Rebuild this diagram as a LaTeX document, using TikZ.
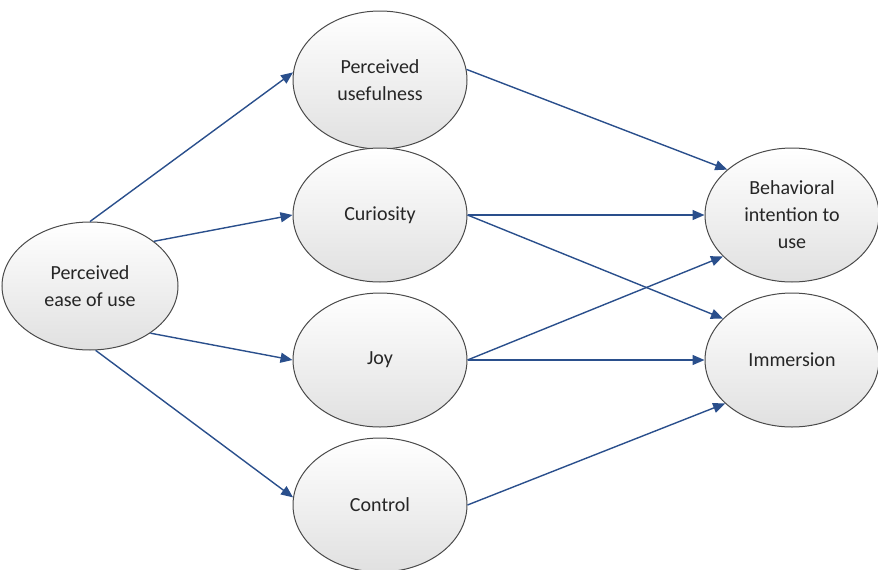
\documentclass[tikz,border=0pt]{standalone}
\usepackage{fontspec}
\setmainfont{Carlito}
\usetikzlibrary{shapes.geometric,arrows.meta}
\definecolor{arrowblue}{HTML}{2A4F8C}
\definecolor{edgegray}{HTML}{4A4A4A}
\tikzset{
  var/.style={ellipse, draw=edgegray, line width=1pt, top color=white, bottom color=black!12,
    minimum width=174pt, minimum height=134pt, inner sep=0pt, align=center,
    font=\fontsize{20}{27}\selectfont, text=black!85},
  link/.style={draw=arrowblue, line width=1.4pt, -{Triangle[length=12pt,width=10pt]}}
}
\begin{document}
\begin{tikzpicture}[x=1pt,y=-1pt]
\useasboundingbox (0,0) rectangle (878,570);
\node[var, minimum width=176pt, minimum height=128pt] (peou) at (90,286) {Perceived\\ease of use};
\node[var, minimum height=138pt] (pu) at (380,80) {Perceived\\usefulness};
\node[var] (cur) at (380,215) {Curiosity};
\node[var] (joy) at (380,360) {Joy};
\node[var] (con) at (380,505) {Control};
\node[var] (bi) at (792,215) {Behavioral\\intention to\\use};
\node[var] (imm) at (792,360) {Immersion};

\draw[link] (peou.north) -- (pu.175);
\draw[link] (peou.35) -- (cur.west);
\draw[link] (peou.-38) -- (joy.west);
\draw[link] (peou.-85) -- (con.175);
\draw[link] (pu.7) -- (bi.145);
\draw[link] (cur.east) -- (bi.west);
\draw[link] (cur.east) -- (imm.149);
\draw[link] (joy.east) -- (bi.-149);
\draw[link] (joy.east) -- (imm.west);
\draw[link] (con.east) -- (imm.-147);
\end{tikzpicture}
\end{document}
